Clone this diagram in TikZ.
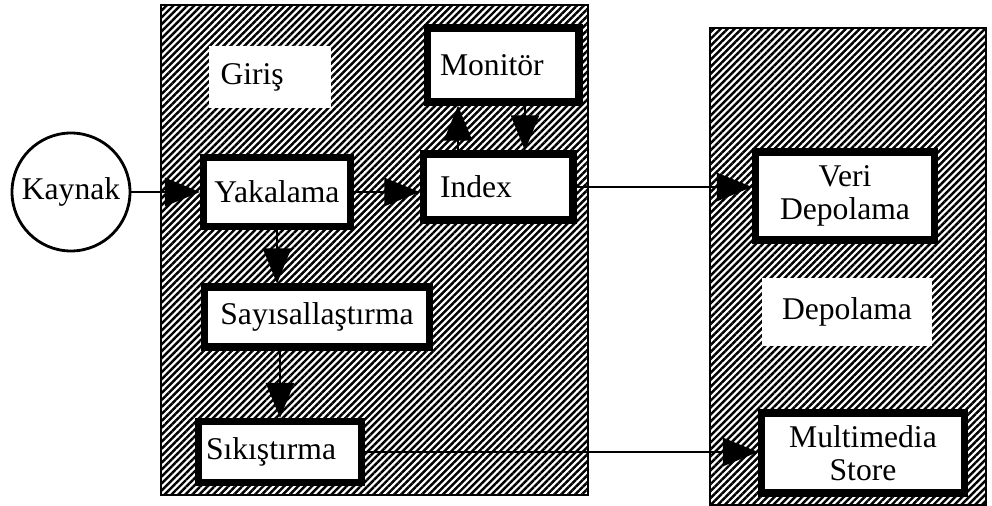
\documentclass[tikz,border=0pt]{standalone}
\usepackage{fontspec}
\setmainfont{Liberation Serif}
\usetikzlibrary{patterns.meta,arrows.meta}

\begin{document}
\begin{tikzpicture}[x=0.02cm,y=-0.02cm,
	kutu/.style={draw,line width=4pt,fill=white,inner sep=0pt,font=\fontsize{18}{19}\selectfont},
	etiket/.style={fill=white,inner sep=0pt,font=\fontsize{18}{19}\selectfont},
	ok/.style={line width=1.4pt,-{Triangle[length=20pt,width=16pt]}},
	tarali/.style={pattern={Lines[angle=45,distance=2.8pt,line width=1.4pt]}}]
	\useasboundingbox (0,0) rectangle (992,506);

	% hatched areas
	\fill[tarali] (161,5) rectangle (588,495);
	\draw[line width=1.4pt] (161,5) rectangle (588,495);
	\fill[tarali] (710,28) rectangle (986,505);
	\draw[line width=1.4pt] (710,28) rectangle (986,505);

	\node[etiket, text width=1.98cm, inner xsep=0.24cm, minimum height=1.26cm, align=left] (giris) at (270,77) {Giriş};
	\node[etiket, minimum width=3.42cm, minimum height=1.38cm] (depolama) at (847,312) {Depolama};

	\node[circle, draw, line width=1.6pt, minimum size=2.36cm, inner sep=0pt, font=\fontsize{18}{19}\selectfont] (kaynak) at (71,192) {Kaynak};
	\node[kutu, minimum width=2.94cm, minimum height=1.38cm] (yakalama) at (277,192) {Yakalama};
	\node[kutu, text width=2.32cm, inner xsep=0.34cm, minimum height=1.32cm, align=left] (index) at (498,187) {Index};
	\node[kutu, text width=2.52cm, inner xsep=0.26cm, minimum height=1.48cm, align=left] (monitor) at (503,65) {Monitör};
	\node[kutu, minimum width=4.52cm, minimum height=1.2cm] (sayisal) at (317,317) {Sayısallaştırma};
	\node[kutu, text width=2.96cm, inner xsep=0.16cm, minimum height=1.22cm, align=left] (sikistirma) at (280,452) {Sıkıştırma};
	\node[kutu, minimum width=3.58cm, minimum height=1.76cm, align=center] (veri) at (845,196) {Veri\\Depolama};
	\node[kutu, minimum width=4.06cm, minimum height=1.6cm, align=center] (multimedia) at (863,453) {Multimedia\\Store};

	% connectors
	\draw[ok] (kaynak.east) -- (kaynak.east -| yakalama.west);
	\draw[ok] (yakalama.east) -- (yakalama.east -| index.west);
	\draw[ok] (index.east) -- (index.east -| veri.west);
	\draw[ok] (sikistirma.east) -- (sikistirma.east -| multimedia.west);
	\draw[ok] (yakalama.south) -- (yakalama.south |- sayisal.north);
	\draw[ok] (sikistirma.north |- sayisal.south) -- (sikistirma.north);
	\draw[ok] ([xshift=-0.8cm]index.north) -- ([xshift=-0.8cm]index.north |- monitor.south);
	\draw[ok] ([xshift=0.54cm]index.north |- monitor.south) -- ([xshift=0.54cm]index.north);
\end{tikzpicture}
\end{document}
